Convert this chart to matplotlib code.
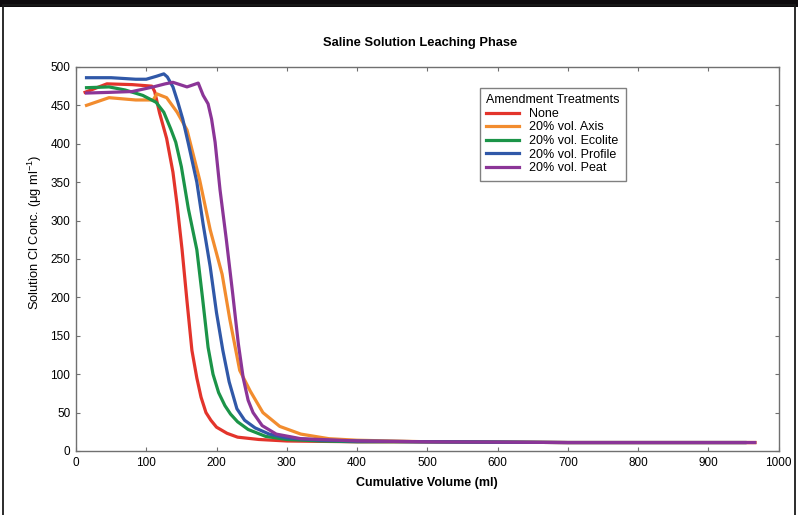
import matplotlib.pyplot as plt
from matplotlib.patches import Rectangle

plt.rcParams['font.family'] = ['Liberation Sans', 'DejaVu Sans']
plt.rcParams['mathtext.default'] = 'regular'

# cumulative volume (ml) / Cl concentration (ug/ml) for each treatment
none_x = [13, 44, 80, 108, 112, 119, 129, 138, 144, 151, 158, 165, 172, 178, 185, 192, 200, 215, 230, 260, 300, 400, 500, 700, 966]
none_y = [467, 478, 477, 475, 468, 440, 407, 363, 320, 262, 195, 131, 95, 70, 50, 40, 31, 23, 18, 15, 13, 12, 12, 11, 11]

axis_x = [15, 47, 85, 110, 115, 129, 144, 158, 176, 191, 208, 219, 233, 248, 266, 290, 320, 360, 400, 500, 700, 966]
axis_y = [450, 460, 457, 457, 465, 460, 441, 418, 353, 288, 230, 171, 105, 78, 50, 32, 22, 16, 14, 12, 11, 11]

ecolite_x = [15, 47, 70, 95, 114, 125, 135, 142, 150, 160, 172, 180, 188, 195, 203, 212, 220, 230, 245, 270, 300, 350, 400, 500, 700, 952]
ecolite_y = [473, 474, 470, 463, 454, 441, 419, 402, 370, 315, 262, 200, 135, 100, 76, 59, 48, 38, 28, 19, 15, 13, 12, 12, 11, 11]

profile_x = [15, 50, 85, 100, 115, 125, 130, 138, 145, 152, 160, 172, 181, 191, 200, 209, 218, 229, 240, 255, 275, 300, 350, 400, 500, 700, 952]
profile_y = [486, 486, 484, 484, 488, 491, 487, 474, 454, 432, 400, 350, 295, 240, 180, 131, 90, 55, 40, 30, 22, 17, 14, 13, 12, 11, 11]

peat_x = [15, 50, 80, 110, 127, 138, 158, 174, 181, 188, 193, 198, 205, 214, 223, 231, 238, 245, 252, 265, 285, 320, 400, 500, 700, 966]
peat_y = [466, 467, 468, 474, 478, 480, 474, 479, 463, 452, 432, 402, 340, 275, 205, 140, 95, 66, 50, 33, 22, 16, 13, 12, 11, 11]

series = [
    ("None", none_x, none_y, "#e3342b"),
    ("20% vol. Axis", axis_x, axis_y, "#f28c2e"),
    ("20% vol. Ecolite", ecolite_x, ecolite_y, "#1b9448"),
    ("20% vol. Profile", profile_x, profile_y, "#3058a8"),
    ("20% vol. Peat", peat_x, peat_y, "#8b3597"),
]

fig = plt.figure(figsize=(7.98, 5.15), dpi=100)
ax = fig.add_axes([0.0952, 0.1243, 0.8806, 0.7457])

for label, xs, ys, color in series:
    ax.plot(xs, ys, color=color, lw=2.3, label=label, solid_joinstyle="round")

ax.set_xlim(0, 1000)
ax.set_ylim(0, 500)
ax.set_xticks(range(0, 1001, 100))
ax.set_yticks(range(0, 501, 50))
ax.tick_params(direction="in", top=True, right=True, length=3, width=0.8,
               color="#707070", labelsize=8.5, pad=4)
for s in ax.spines.values():
    s.set_color("#707070")
    s.set_linewidth(1.0)

fig.text(420 / 798, 1 - 43 / 515, "Saline Solution Leaching Phase", fontsize=9.3,
         fontweight="bold", ha="center", va="center")
ax.set_xlabel("Cumulative Volume (ml)", fontsize=9, fontweight="bold", labelpad=6)
ax.set_ylabel(r"Solution Cl Conc. ($\mu$g ml$^{-1}$)", fontsize=9.3)
ax.yaxis.set_label_coords(-0.045, 0.57)

leg = ax.legend(title="Amendment Treatments", loc="upper left",
                bbox_to_anchor=(480 / 798, 1 - 88 / 515), bbox_transform=fig.transFigure,
                borderaxespad=0, fontsize=9, title_fontsize=9, handlelength=2.6,
                labelspacing=0.13, borderpad=0.5, handletextpad=0.8,
                fancybox=False, framealpha=1)
leg.get_frame().set_edgecolor("#808080")
leg.get_frame().set_linewidth(1.0)
leg._legend_box.align = "left"

# page frame: black band on top and thin border lines
fig.patches.append(Rectangle((0, 1 - 7 / 515), 1, 7 / 515, transform=fig.transFigure,
                             facecolor="#0e0b0e", edgecolor="none"))
fig.patches.append(Rectangle((3 / 798, -0.01), 1 - 6 / 798, 1.0, transform=fig.transFigure,
                             facecolor="none", edgecolor="#1a1a1a", linewidth=1.3))

fig.savefig("out.png", dpi=100)
